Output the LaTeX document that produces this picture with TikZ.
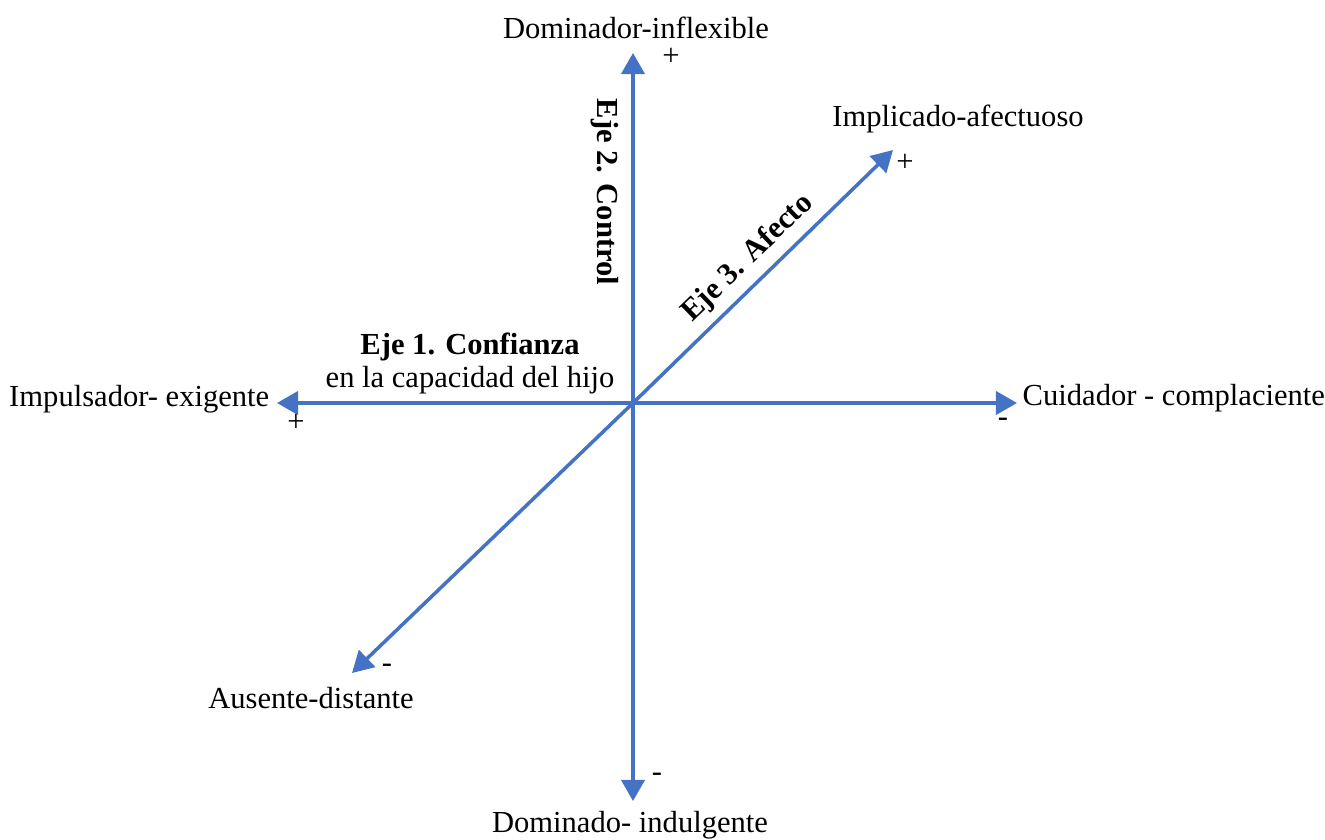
\documentclass[tikz,border=0pt]{standalone}
\usepackage{fontspec}
\setmainfont{Liberation Serif}
\usetikzlibrary{arrows.meta}
\definecolor{axisblue}{RGB}{68,114,196}
\tikzset{
    axis/.style={axisblue, line width=1pt, -{Triangle[length=6pt,width=6.6pt]}},
    lbl/.style={inner sep=0pt, font=\fontsize{8.7}{10.4}\selectfont},
    sgn/.style={inner sep=0pt, font=\fontsize{8.7}{10.4}\selectfont},
    ttl/.style={inner sep=0pt, font=\fontsize{8.7}{10.4}\selectfont\bfseries}
}

\begin{document}
\begin{tikzpicture}
    \useasboundingbox (0,0) rectangle (13.25,-8.39);

    % axes
    \coordinate (o) at (6.33,-4.03);
    \coordinate (top) at (6.33,-0.53);
    \coordinate (bot) at (6.33,-8.01);
    \coordinate (left) at (2.77,-4.03);
    \coordinate (right) at (10.17,-4.03);
    \coordinate (ne) at (8.93,-1.50);
    \coordinate (sw) at (3.52,-6.73);

    \draw[axis] (o) -- (top);
    \draw[axis] (o) -- (bot);
    \draw[axis] (o) -- (left);
    \draw[axis] (o) -- (right);
    \draw[axis] (o) -- (ne);
    \draw[axis] (o) -- (sw);

    % end labels
    \node[lbl] (dominador) at (6.36,-0.28) {Dominador-inflexible};
    \node[lbl] (dominado) at (6.30,-8.25) {Dominado- indulgente};
    \node[lbl, anchor=east] (impulsador) at (2.70,-3.99) {Impulsador- exigente};
    \node[lbl, anchor=west] (cuidador) at (10.22,-3.98) {Cuidador - complaciente};
    \node[lbl] (implicado) at (9.58,-1.19) {Implicado-afectuoso};
    \node[lbl] (ausente) at (3.11,-6.98) {Ausente-distante};

    % signs
    \node[sgn] (ptop) at (6.71,-0.57) {+};
    \node[sgn] (mbot) at (6.57,-7.77) {-};
    \node[sgn] (pleft) at (2.96,-4.23) {+};
    \node[sgn] (mright) at (10.03,-4.22) {-};
    \node[sgn] (pne) at (9.05,-1.63) {+};
    \node[sgn] (msw) at (3.87,-6.68) {-};

    % axis names
    \node[ttl] (eje1) at (4.70,-3.47) {Eje 1. Confianza};
    \node[lbl] (eje1b) at (4.70,-3.80) {en la capacidad del hijo};
    \node[ttl, rotate=-90] (eje2) at (6.05,-1.92) {Eje 2. Control};
    \node[ttl, rotate=44] (eje3) at (7.48,-2.58) {Eje 3. Afecto};
\end{tikzpicture}
\end{document}
